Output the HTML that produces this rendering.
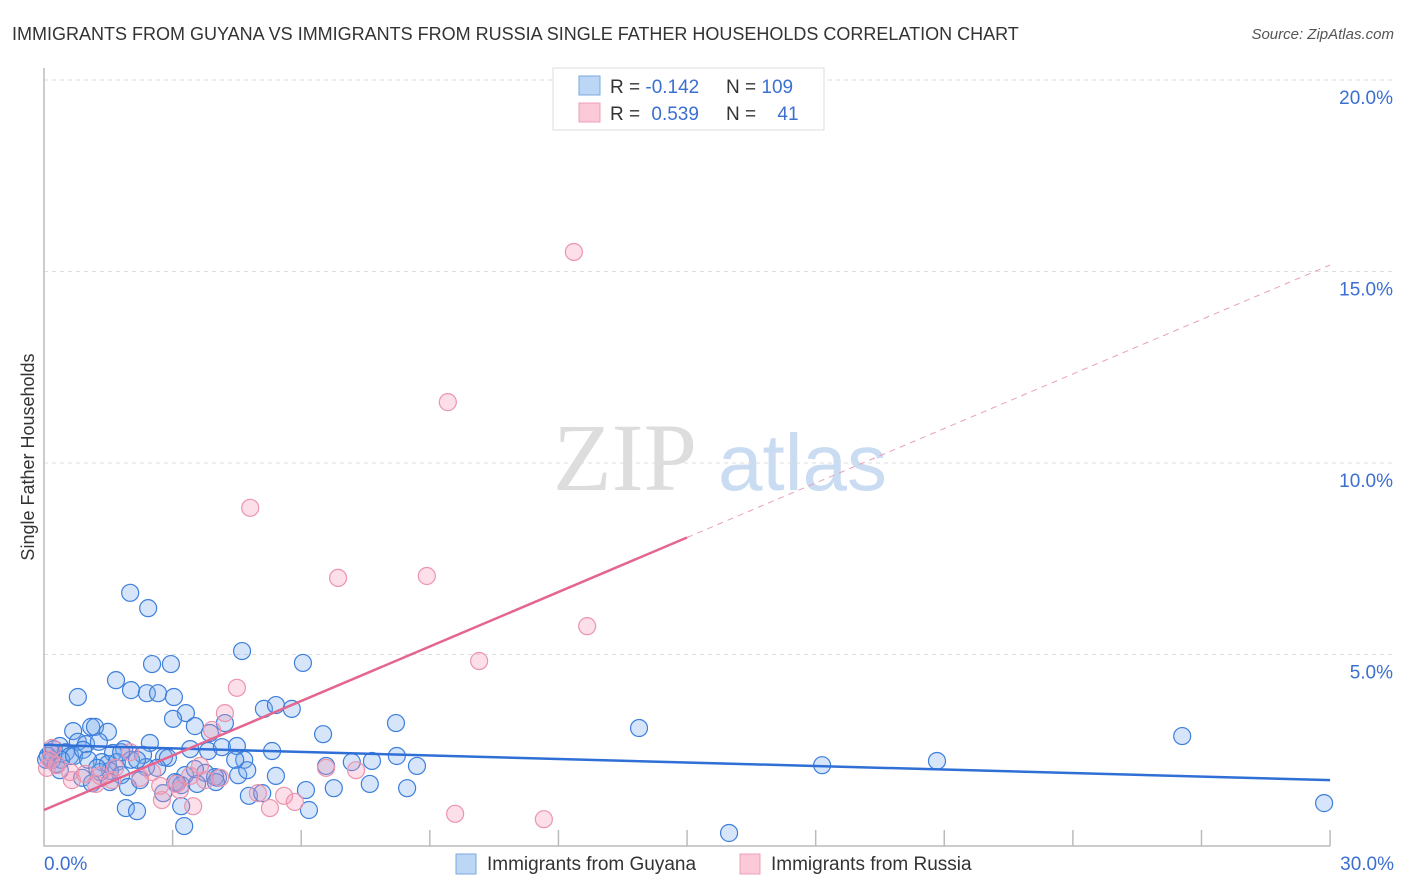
<!DOCTYPE html>
<html><head><meta charset="utf-8"><style>
body{margin:0;background:#fff;font-family:"Liberation Sans",sans-serif}
svg{display:block}
</style></head><body>
<svg id="chart" width="1406" height="892" xmlns="http://www.w3.org/2000/svg">
<text x="12" y="40" font-size="18" fill="#333">IMMIGRANTS FROM GUYANA VS IMMIGRANTS FROM RUSSIA SINGLE FATHER HOUSEHOLDS CORRELATION CHART</text>
<text x="1394" y="39" font-size="15" fill="#555" font-style="italic" text-anchor="end">Source: ZipAtlas.com</text>
<g>
<text x="553" y="490" font-size="96" font-family="Liberation Serif,serif" fill="#ddd">ZIP</text>
<text x="718" y="490" font-size="80" fill="#c9dcf2">atlas</text>
</g>
<text transform="translate(34,457) rotate(-90)" font-size="18" fill="#333" text-anchor="middle">Single Father Households</text>
<g id="grid"></g><g id="axes"></g><g id="marks"></g><g id="lines"></g>
<g>
<rect x="553" y="68" width="271" height="62" fill="#fff" stroke="#ddd"/>
<rect x="579" y="76" width="21" height="19" fill="#bcd6f5" stroke="#7aa8e0"/>
<rect x="579" y="103" width="21" height="19" fill="#fbc9d7" stroke="#eda0b6"/>
<text x="610" y="93" font-size="19" fill="#333">R = <tspan fill="#3b6fd0">-0.142</tspan></text>
<text x="726" y="93" font-size="19" fill="#333">N = <tspan fill="#3b6fd0">109</tspan></text>
<text x="610" y="120" font-size="19" fill="#333">R = <tspan fill="#3b6fd0" dx="6">0.539</tspan></text>
<text x="726" y="120" font-size="19" fill="#333">N = <tspan fill="#3b6fd0" dx="16">41</tspan></text>
</g>
<g>
<rect x="456" y="854" width="20" height="20" fill="#bcd6f5" stroke="#7aa8e0"/>
<text x="487" y="870" font-size="19" fill="#333">Immigrants from Guyana</text>
<rect x="740" y="854" width="20" height="20" fill="#fbc9d7" stroke="#eda0b6"/>
<text x="771" y="870" font-size="19" fill="#333">Immigrants from Russia</text>
</g>
</svg>
<script>
const yTicks=[5,10,15,20];
const yTickLabels=["5.0%","10.0%","15.0%","20.0%"];
const xTickLabels=["0.0%","30.0%"];
const guyanaX=[2.01,2.43,2.52,2.96,4.62,6.04,1.68,2.03,2.40,2.66,3.03,0.79,5.13,5.41,5.78,3.31,3.01,3.52,4.22,1.10,0.68,1.19,1.49,3.87,8.21,6.51,13.88,26.55,0.79,0.37,0.98,1.28,1.87,2.47,3.41,3.83,4.15,4.50,5.32,1.61,2.31,2.80,0.23,0.51,0.09,0.19,0.28,0.61,1.35,1.49,1.70,2.03,4.67,6.58,7.18,7.65,8.23,8.70,18.15,20.83,1.54,1.31,1.80,2.38,3.29,3.76,4.06,4.53,4.74,5.41,0.89,1.12,1.96,3.06,3.20,3.57,4.78,5.09,6.11,6.76,7.60,8.47,6.18,2.78,3.10,1.91,2.17,3.20,3.27,15.98,29.86,0.40,0.70,0.16,0.91,1.80,2.89,3.52,3.99,2.64,2.24,1.54,0.05,1.03,1.24,0.37,2.17,4.01,4.46];
const guyanaY=[6.61,6.21,4.75,4.75,5.09,4.78,4.33,4.07,3.99,3.99,3.89,3.89,3.58,3.68,3.58,3.47,3.32,3.13,3.21,3.11,3.00,3.11,2.98,2.95,3.21,2.92,3.08,2.87,2.72,2.61,2.66,2.72,2.53,2.69,2.53,2.48,2.58,2.61,2.48,2.43,2.38,2.32,2.53,2.45,2.35,2.25,2.14,2.35,2.19,2.14,2.19,2.25,2.25,2.09,2.19,2.22,2.35,2.09,2.11,2.22,1.96,1.93,1.85,2.06,1.85,1.91,1.78,1.85,1.98,1.83,1.78,1.64,1.54,1.67,1.59,1.62,1.31,1.38,1.46,1.51,1.62,1.51,0.94,1.38,1.64,0.99,0.91,1.04,0.52,0.34,1.12,2.25,2.35,2.45,2.51,2.45,2.30,2.01,1.80,2.04,1.72,1.67,2.25,2.25,2.04,1.98,2.25,1.67,2.25];
const russiaX=[12.36,9.42,4.81,6.86,8.93,12.67,10.15,4.50,4.22,3.92,0.19,0.14,0.30,0.07,0.61,0.96,1.31,1.66,2.01,2.52,2.71,3.17,3.64,3.41,3.76,4.11,4.99,5.27,5.60,5.85,6.58,7.28,3.08,2.75,3.48,9.59,11.66,1.59,2.24,0.65,1.21];
const russiaY=[15.51,11.59,8.83,7.00,7.05,5.74,4.83,4.13,3.47,3.03,2.56,2.25,2.11,2.04,1.93,1.88,1.83,2.04,2.45,1.93,1.57,1.46,2.09,1.83,1.72,1.78,1.38,0.99,1.31,1.15,2.04,1.98,1.62,1.20,1.04,0.84,0.70,1.72,1.78,1.72,1.62];
const guyanaTrend=[2.64,1.72];
const russiaTrend=[0.94,15.17];
const NS="http://www.w3.org/2000/svg";
const X=v=>44+v*42.87, Y=v=>846-v*38.3;
function mk(tag,attrs,parent){const e=document.createElementNS(NS,tag);for(const k in attrs)e.setAttribute(k,attrs[k]);parent.appendChild(e);return e;}
const grid=document.getElementById('grid'),axes=document.getElementById('axes'),marks=document.getElementById('marks'),lines=document.getElementById('lines');
yTicks.forEach((t,i)=>{
 const l=mk('line',{x1:44,x2:1395,y1:Y(t),y2:Y(t),stroke:'#ddd','stroke-dasharray':'4,4'},grid);
 
 
 const tx=mk('text',{x:1393,y:Y(t)+24,'font-size':19,fill:'#3b6fd0','text-anchor':'end'},grid);
 tx.textContent=yTickLabels[i];
 
 
});
const ax=mk('path',{d:`M44 68 V846 H1330`,stroke:'#bbb',fill:'none','stroke-width':1.5},axes);


for(let i=1;i<=10;i++){
 const t=mk('line',{x1:X(i*3),x2:X(i*3),y1:846,y2:830,stroke:'#bbb','stroke-width':1.5},axes);
 
 
}
[[0,'start',44],[30,'end',1394]].forEach((d,i)=>{
 const t=mk('text',{x:d[2],y:870,'font-size':19,fill:'#3b6fd0','text-anchor':d[1]},axes);
 t.textContent=xTickLabels[i];
 
 
});
guyanaX.forEach((x,i)=>{
 const c=mk('circle',{cx:X(x),cy:Y(guyanaY[i]),r:8.5,fill:'rgba(120,170,235,0.3)',stroke:'#3d7fdc','stroke-width':1.2},marks);
 
 
});
russiaX.forEach((x,i)=>{
 const c=mk('circle',{cx:X(x),cy:Y(russiaY[i]),r:8.5,fill:'rgba(245,150,180,0.3)',stroke:'#eb94ae','stroke-width':1.2},marks);
 
 
});
const gl=mk('line',{x1:X(0),y1:Y(guyanaTrend[0]),x2:X(30),y2:Y(guyanaTrend[1]),stroke:'#2f6fd6','stroke-width':2.5},lines);


const rm=(russiaTrend[0]+russiaTrend[1])/2;
const rl=mk('line',{x1:X(0),y1:Y(russiaTrend[0]),x2:X(15),y2:Y(rm),stroke:'#e36590','stroke-width':2.5},lines);


const rd=mk('line',{x1:X(15),y1:Y(rm),x2:X(30),y2:Y(russiaTrend[1]),stroke:'#e8a0b8','stroke-width':1,'stroke-dasharray':'6,5'},lines);


</script>
</body></html>
